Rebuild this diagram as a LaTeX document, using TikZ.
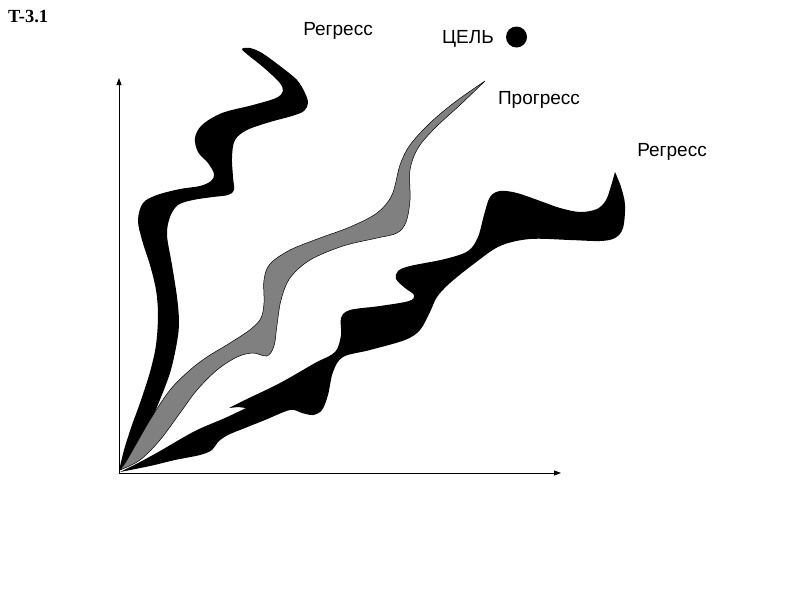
\documentclass[tikz,border=0pt]{standalone}
\usepackage{fontspec}
\setmainfont{Liberation Sans}
\newfontfamily\titlefont{Liberation Serif}
\usetikzlibrary{arrows.meta}
\definecolor{progfill}{RGB}{128,128,128}
\begin{document}
\begin{tikzpicture}[x=1pt,y=-1pt,
  lbl/.style={font=\fontsize{19}{22}\selectfont, anchor=base, inner sep=0pt},
  blk/.style={fill=black},
  prog/.style={fill=progfill, draw=black, line width=0.5pt, line join=round},
  axis/.style={line width=0.8pt, -{Triangle[length=7pt,width=5pt]}}]
\useasboundingbox (0,0) rectangle (800,600);
% title
\node[anchor=base west, inner sep=0pt, font=\titlefont\bfseries\fontsize{18.5}{22}\selectfont] (title) at (8,22) {T-3.1};
% axes
\coordinate (O) at (119,473);
\coordinate (Yend) at (119,78);
\coordinate (Xend) at (561,473);
\draw[axis] (O) -- (Yend);
\draw[axis] (O) -- (Xend);
% left regress
\fill[blk] plot[smooth, tension=0.55] coordinates {(119,471) (124,450) (132,425) (140,403) (150,372) (156,345) (158,315) (156,290) (150,265) (142,240) (138,220) (143,203) (157,195) (180,189) (200,186) (211,181) (214,174) (208,163) (198,152) (195,138) (202,125) (222,113) (253,105) (276,98) (283,91) (279,82) (263,67) (248,55) (242,49) (250,48) (262,53) (280,66) (297,80) (305,93) (308,103) (304,111) (292,116) (270,122) (247,130) (235,140) (232,157) (233,177) (234,190) (228,195) (213,197) (193,200) (178,205) (170,217) (167,235) (172,265) (177,297) (179,322) (177,342) (170,373) (157,407) (140,447) (127,463) (119,471)} -- cycle;
% progress (gray)
\filldraw[prog] plot[smooth, tension=0.55] coordinates {(120,470) (127,460) (150,420) (170,390) (190,370) (207,357) (230,343) (251,329) (261,318) (264,303) (264,280) (270,264) (290,250) (320,238) (350,227) (377,213) (392,195) (400,165) (410,145) (430,123) (455,102) (485,81)}
  -- plot[smooth, tension=0.55] coordinates {(485,81) (460,105) (435,128) (418,148) (410,170) (410,200) (406,222) (397,233) (377,238) (343,246) (310,260) (290,278) (281,300) (277,325) (274,346) (267,356) (253,353) (237,357) (217,370) (197,390) (180,413) (160,440) (140,460) (120,470)} -- cycle;
% right regress
\fill[blk] plot[smooth, tension=0.55] coordinates {(120,472) (150,466) (175,460) (200,455) (212,450) (218,442) (228,435) (245,428) (265,420) (290,410) (302,413) (313,415) (322,410) (328,395) (333,372) (343,357) (370,350) (405,340) (420,330) (430,312) (437,297) (450,283) (475,263) (500,246) (530,239) (570,240) (600,241) (615,238) (623,228) (625,205) (621,187) (615,172)}
  -- plot[smooth, tension=0.55] coordinates {(615,172) (611,186) (606,200) (597,209) (580,212) (560,208) (543,202) (517,193) (500,191) (490,197) (484,215) (478,237) (468,251) (445,259) (410,266) (398,271) (396,279) (405,288) (414,295) (409,301) (380,306) (350,310) (341,318) (341,335) (335,352) (315,363) (280,383) (247,399) (229,408)}
  -- (238,407) -- (246,408)
  -- plot[smooth, tension=0.55] coordinates {(246,408) (225,418) (195,431) (160,451) (140,462) (120,472)} -- cycle;
% labels
\node[lbl] (reg1) at (338,35.5) {Регресс};
\node[lbl] (goal) at (468,43) {ЦЕЛЬ};
\node[circle, fill=black, minimum size=21pt, inner sep=0pt] (dot) at (516.5,37) {};
\node[lbl] (prog) at (539,104) {Прогресс};
\node[lbl] (reg2) at (672,156) {Регресс};
\end{tikzpicture}
\end{document}
